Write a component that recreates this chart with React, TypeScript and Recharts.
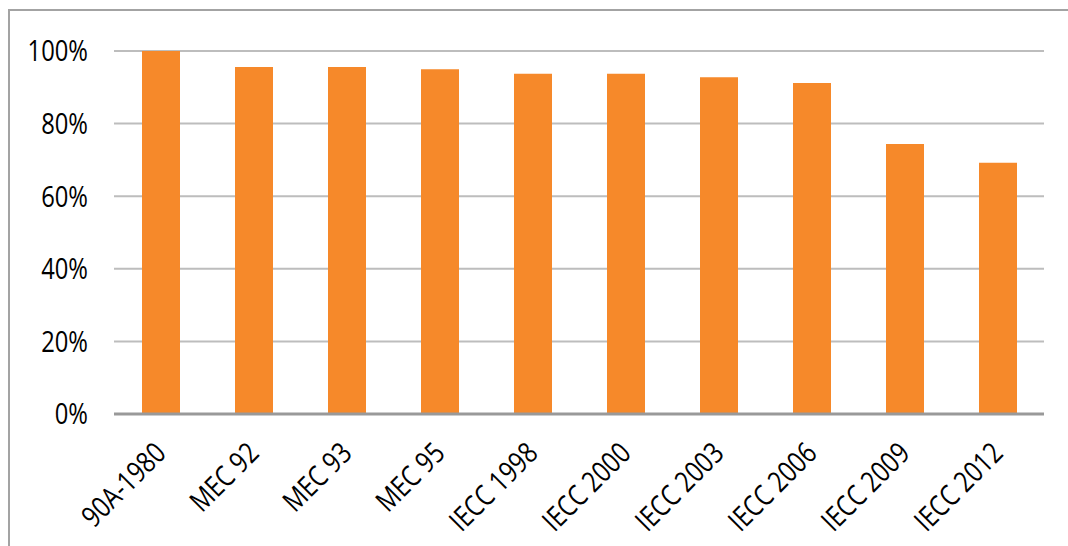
import { BarChart, Bar, XAxis, YAxis, CartesianGrid } from 'recharts';

const categories = [
  '90A-1980',
  'MEC 92',
  'MEC 93',
  'MEC 95',
  'IECC 1998',
  'IECC 2000',
  'IECC 2003',
  'IECC 2006',
  'IECC 2009',
  'IECC 2012',
];
const shares = [1.0, 0.956, 0.956, 0.95, 0.937, 0.937, 0.928, 0.912, 0.744, 0.692];
const yTicks = [0, 0.2, 0.4, 0.6, 0.8, 1.0];

const data = categories.map((name, i) => ({ name, value: shares[i] }));

// Myriad-like look: a humanist sans squeezed a little
const FONT = '"Open Sans", "DejaVu Sans", sans-serif';
const SQUEEZE = 0.82;

function XTick(props: any) {
  const { x, y, payload } = props;
  return (
    <g transform={`translate(${x + 7},${y + 33}) rotate(-45) scale(${SQUEEZE},1)`}>
      <text textAnchor="end" fill="#000" fontSize={29} fontFamily={FONT}>
        {payload.value}
      </text>
    </g>
  );
}

function YTick(props: any) {
  const { x, y, payload } = props;
  return (
    <g transform={`translate(${x},${y}) scale(${SQUEEZE},1)`}>
      <text textAnchor="end" dy="0.36em" fill="#000" fontSize={29} fontFamily={FONT}>
        {`${Math.round(payload.value * 100)}%`}
      </text>
    </g>
  );
}

export default function App() {
  return (
    <div
      style={{
        position: 'absolute',
        left: 0,
        top: 0,
        width: 1068,
        height: 546,
        overflow: 'hidden',
        background: '#fff',
      }}
    >
      <div
        style={{
          position: 'absolute',
          left: 8,
          top: 9,
          width: 1200,
          height: 700,
          borderLeft: '2px solid #a3a3a3',
          borderTop: '2px solid #a3a3a3',
        }}
      />
      <BarChart
        width={1068}
        height={546}
        data={data}
        margin={{ top: 51, right: 24, left: 14, bottom: 12 }}
        barSize={38}
        style={{ position: 'absolute', left: 0, top: 0 }}
      >
        <CartesianGrid horizontal vertical={false} stroke="#bdbdbd" strokeWidth={2} />
        <XAxis
          dataKey="name"
          height={120}
          interval={0}
          tickLine={false}
          axisLine={{ stroke: '#999', strokeWidth: 3 }}
          tick={<XTick />}
        />
        <YAxis
          width={100}
          domain={[0, 1]}
          ticks={yTicks}
          interval={0}
          axisLine={false}
          tickLine={false}
          tickSize={0}
          tickMargin={26}
          tick={<YTick />}
        />
        <Bar dataKey="value" fill="#f6892a" isAnimationActive={false} />
      </BarChart>
    </div>
  );
}
